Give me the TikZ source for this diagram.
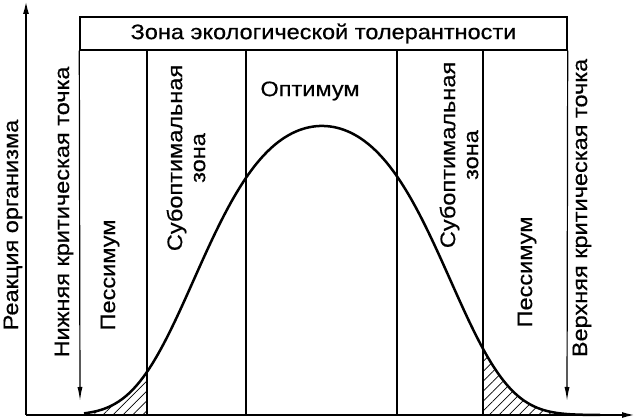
\documentclass[tikz,border=0pt]{standalone}
\usepackage{fontspec}
\setmainfont{Liberation Sans}[FakeStretch=1.12, FakeBold=0.5]
\usepackage{tikz}
\usetikzlibrary{arrows.meta, patterns.meta}
\tikzstyle{txt} = [font=\fontsize{21}{23}\selectfont, 
inner sep=0pt, 
align=center]
\tikzstyle{vtxt} = [txt, rotate=90]
\tikzstyle{axis} = [line width=1.8pt, -{Latex[length=13pt,width=6pt]}]
\tikzstyle{critarrow} = [line width=1.2pt, -{Latex[length=14pt,width=5pt]}]
\tikzstyle{zoneline} = [line width=1.4pt]
\tikzstyle{zonebox} = [rectangle, 
draw=black, 
line width=1.4pt, 
minimum width=487pt, 
minimum height=33pt]
\tikzstyle{bellcurve} = [line width=2.5pt]
\tikzstyle{hatch} = [pattern={Lines[angle=45,distance=7pt,line width=0.7pt]}]

\begin{document}
\begin{tikzpicture}[x=1pt, y=1pt,
declare function={sq(\t)=((\t-322)/100)*((\t-322)/100);
  bell(\t)=4+289*exp(-0.278*sq(\t)-0.112*sq(\t)*sq(\t));}]
\useasboundingbox (0,0) rectangle (636,419);
\fill[white] (0,0) rectangle (636,419);

% axes
\coordinate (origin) at (26,4);
\coordinate (ytop) at (26,418);
\coordinate (xend) at (635,4);
\draw [axis] (origin) -- (ytop);
\draw [axis] (origin) -- (xend);

% hatched tails
\fill [hatch] (147,4) -- plot[domain=147:85, samples=40] (\x,{bell(\x)}) -- cycle;
\fill [hatch] (483,4) -- plot[domain=483:570, samples=40] (\x,{bell(\x)}) -- cycle;

\node (zone) [zonebox, txt] at (323.5,385.5) {Зона экологической толерантности};
\foreach \xx in {147,246,397,483}
  \draw [zoneline] (\xx,369) -- (\xx,4);

% critical points
\coordinate (lowcrit) at (80,18);
\coordinate (highcrit) at (567,18);
\draw [critarrow] (zone.south west) -- (lowcrit);
\draw [critarrow] (zone.south east) -- (highcrit);

\draw [bellcurve] plot[domain=84:600, samples=150, smooth] (\x,{bell(\x)});

\node (reaction) [vtxt] at (13,194) {Реакция организма};
\node (lowpoint) [vtxt] at (64,207) {Нижняя критическая точка};
\node (pessleft) [vtxt] at (110,144) {Пессимум};
\node (subleft) [vtxt] at (186,261) {Субоптимальная\\зона};
\node (optimum) [txt] at (310,328) {Оптимум};
\node (subright) [vtxt] at (459,264) {Субоптимальная\\зона};
\node (pessright) [vtxt] at (527,147) {Пессимум};
\node (highpoint) [vtxt] at (582,211) {Верхняя критическая точка};

\end{tikzpicture}
\end{document}
